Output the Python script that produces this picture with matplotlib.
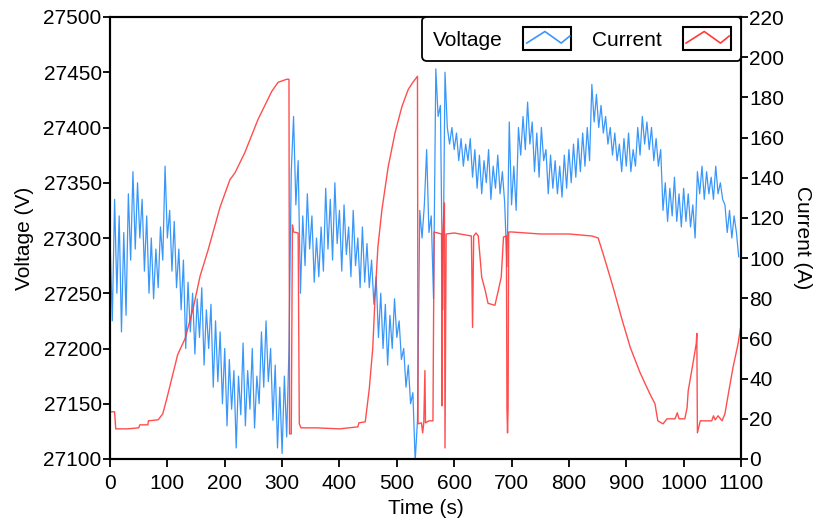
import numpy as np
import matplotlib
matplotlib.use("Agg")
import matplotlib.pyplot as plt
from matplotlib.legend_handler import HandlerBase
from matplotlib.patches import Rectangle
from matplotlib.lines import Line2D

plt.rcParams['font.family'] = ['Liberation Sans', 'DejaVu Sans']
plt.rcParams['font.size'] = 15

time_volt = np.arange(0, 1100, 4)
voltage = [
    27300, 27225, 27335, 27250, 27320, 27215, 27305, 27230, 27340, 27280,
    27360, 27290, 27350, 27300, 27335, 27270, 27320, 27250, 27300, 27245,
    27290, 27255, 27310, 27280, 27365, 27300, 27325, 27270, 27315, 27255,
    27290, 27235, 27280, 27200, 27260, 27215, 27250, 27195, 27245, 27210,
    27255, 27185, 27235, 27200, 27240, 27165, 27225, 27170, 27215, 27150,
    27200, 27130, 27190, 27145, 27180, 27110, 27175, 27140, 27205, 27130,
    27180, 27145, 27200, 27128, 27175, 27150, 27215, 27165, 27225, 27170,
    27200, 27135, 27185, 27110, 27165, 27105, 27175, 27120, 27200, 27360,
    27410, 27330, 27370, 27250, 27320, 27275, 27340, 27290, 27320, 27260,
    27300, 27265, 27310, 27270, 27345, 27290, 27335, 27280, 27350, 27295,
    27325, 27270, 27330, 27285, 27310, 27265, 27325, 27275, 27300, 27255,
    27310, 27260, 27295, 27255, 27280, 27240, 27265, 27210, 27250, 27200,
    27240, 27185, 27230, 27200, 27245, 27210, 27225, 27190, 27200, 27165,
    27185, 27150, 27160, 27098, 27135, 27325, 27300, 27330, 27380, 27305,
    27320, 27245, 27453, 27410, 27420, 27235, 27450, 27400, 27385, 27400,
    27380, 27395, 27370, 27390, 27365, 27385, 27370, 27390, 27355, 27380,
    27345, 27375, 27340, 27370, 27350, 27380, 27335, 27365, 27345, 27375,
    27340, 27360, 27332, 27274, 27405, 27330, 27365, 27325, 27400, 27375,
    27410, 27380, 27423, 27385, 27405, 27360, 27395, 27355, 27400, 27370,
    27380, 27340, 27375, 27345, 27370, 27340, 27365, 27337, 27375, 27345,
    27380, 27350, 27385, 27355, 27390, 27360, 27395, 27365, 27400, 27370,
    27439, 27405, 27430, 27400, 27420, 27395, 27410, 27385, 27400, 27375,
    27395, 27370, 27385, 27360, 27390, 27365, 27395, 27360, 27380, 27365,
    27400, 27375, 27410, 27385, 27405, 27380, 27400, 27370, 27390, 27365,
    27380, 27325, 27350, 27315, 27345, 27320, 27355, 27315, 27340, 27310,
    27345, 27315, 27340, 27310, 27330, 27300, 27360, 27340, 27365, 27335,
    27360, 27340, 27355, 27335, 27365, 27340, 27350, 27335, 27330, 27305,
    27325, 27300, 27320, 27305, 27283,
]

time_curr = [
    0, 8, 10, 30, 50, 52, 66, 67, 84, 92, 99, 118, 131, 145, 157, 171, 192,
    209, 218, 235, 258, 282, 293, 308, 312, 313, 316, 318, 320, 328, 330,
    333, 360, 400, 432, 434, 445, 452, 458, 462, 467, 474, 485, 497, 509,
    520, 528, 536, 537, 543, 545, 547, 549, 550, 556, 563, 565, 578, 579,
    580, 583, 584, 586, 600, 630, 632, 634, 638, 642, 648, 654, 659, 671,
    677, 682, 686, 691, 692, 693, 694, 695, 700, 750, 800, 840, 851, 863,
    877, 893, 907, 924, 941, 950, 955, 964, 971, 985, 989, 992, 1002, 1006,
    1008, 1015, 1022, 1023, 1024, 1029, 1049, 1052, 1055, 1060, 1067, 1072,
    1078, 1086, 1095, 1099,
]
current = [
    23.5, 23.5, 15, 15, 15.5, 17, 17, 19, 19.5, 22.5, 30, 52, 60, 75, 91, 104,
    125.5, 139, 142.5, 152.5, 169, 183, 187.5, 189, 189, 12.5, 12.5, 116.5,
    113, 112.5, 17.5, 15.5, 15.5, 15, 16, 18, 18.5, 35, 55, 80, 105.5, 124,
    145.5, 162.5, 175.5, 184, 187.5, 190.5, 17.5, 18, 13, 18, 44, 18, 19, 19,
    113, 112, 26.5, 112, 127.5, 5.5, 112, 112.5, 111, 65.5, 111, 112.5, 111,
    90.5, 84, 77.5, 76.5, 84, 90.5, 110.5, 111, 25, 13, 25, 113, 113, 112,
    112, 111, 110, 99, 85.5, 69, 55.5, 43, 32.5, 27.5, 19, 17.5, 20, 20, 23,
    20, 20, 25.5, 34, 45.5, 57.5, 62.5, 13, 19, 19, 21.5, 19.5, 21.5, 19,
    22.5, 32.5, 45.5, 57.5, 65,
]

volt_ticks = list(range(27100, 27501, 50))
curr_ticks = list(range(0, 221, 20))
time_ticks = list(range(0, 1101, 100))


class BoxZigzag(HandlerBase):
    def create_artists(self, legend, orig_handle, xdescent, ydescent,
                       width, height, fontsize, trans):
        box = Rectangle((-xdescent, -ydescent), width, height, fill=False,
                        ec="black", lw=1.5, transform=trans)
        xs = np.array([0.07, 0.45, 0.79, 0.97]) * width - xdescent
        ys = np.array([0.31, 0.82, 0.31, 0.62]) * height - ydescent
        zz = Line2D(xs, ys, color=orig_handle.get_color(), lw=1.2,
                    transform=trans)
        return [box, zz]


fig = plt.figure(figsize=(8.16, 5.27), dpi=100)
ax = fig.add_axes([110 / 816, 68 / 527, 631 / 816, 442 / 527])
ax2 = ax.twinx()

blue = "#3a97fa"
red = "#ff3b3b"

lv, = ax.plot(time_volt, voltage, color=blue, lw=0.9)
lc, = ax2.plot(time_curr, current, color=red, lw=1.0, alpha=0.9)

ax.set_xlim(0, 1100)
ax.set_ylim(27100, 27500)
ax2.set_ylim(0, 220)
ax.set_xticks(time_ticks)
ax.set_yticks(volt_ticks)
ax2.set_yticks(curr_ticks)

for a in (ax, ax2):
    a.tick_params(direction="out", length=5, width=1.3, pad=1)
    for s in a.spines.values():
        s.set_linewidth(1.5)
ax.tick_params(axis="x", length=6, pad=5)

ax.set_xlabel("Time (s)", labelpad=4)
ax.set_ylabel("Voltage (V)", labelpad=7)
ax2.set_ylabel("Current (A)", rotation=270, labelpad=20)

leg = ax2.legend([lv, lc], ["Voltage", "Current"], loc="upper right",
                 ncol=2, markerfirst=False, borderaxespad=0,
                 handler_map={Line2D: BoxZigzag()},
                 handlelength=2.3, handleheight=1.3, handletextpad=1.0,
                 columnspacing=1.0, borderpad=0.5, fancybox=True,
                 framealpha=1, edgecolor="black")
leg.get_frame().set_linewidth(1.3)

fig.savefig("out.png", dpi=100)
